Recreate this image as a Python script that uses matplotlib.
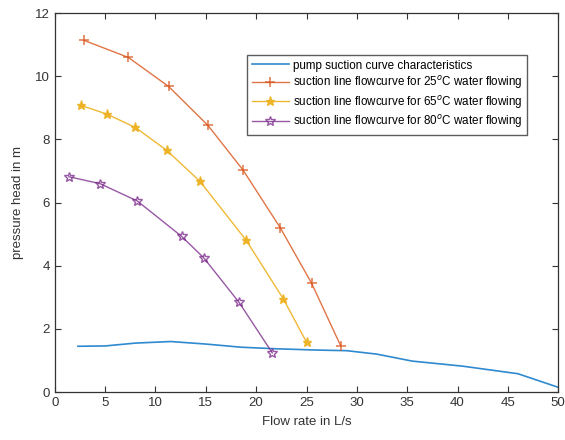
import numpy as np
import matplotlib.pyplot as plt

plt.rcParams['font.family'] = ['Liberation Sans', 'DejaVu Sans']

# pump suction curve
pump_x = [2.3, 5, 8, 11.5, 15, 18.5, 22, 26, 29, 32, 35.5, 40.5, 46, 50]
pump_y = [1.45, 1.46, 1.55, 1.6, 1.52, 1.42, 1.37, 1.33, 1.31, 1.2, 0.98, 0.82, 0.58, 0.15]

# suction line flow curves
x25 = [2.9, 7.3, 11.3, 15.2, 18.7, 22.4, 25.5, 28.4]
y25 = [11.14, 10.6, 9.68, 8.45, 7.03, 5.2, 3.45, 1.46]

x65 = [2.6, 5.2, 8.0, 11.1, 14.4, 19.0, 22.7, 25.0]
y65 = [9.08, 8.8, 8.38, 7.66, 6.68, 4.81, 2.95, 1.58]

x80 = [1.4, 4.5, 8.2, 12.6, 14.8, 18.3, 21.6]
y80 = [6.82, 6.6, 6.05, 4.93, 4.25, 2.84, 1.24]

fig = plt.figure(figsize=(5.65, 4.4), dpi=100)
ax = fig.add_axes([0.097, 0.109, 0.891, 0.861])

ax.plot(pump_x, pump_y, color='#2F8AD0', lw=1.2, label='pump suction curve characteristics')
ax.plot(x25, y25, color='#D95319', lw=1.0, marker='+', ms=7, mew=1.1,
        label='suction line flowcurve for 25$^{o}$C water flowing', alpha=0.8)
ax.plot(x65, y65, color='#EDB120', lw=1.0, marker='*', ms=6.5,
        label='suction line flowcurve for 65$^{o}$C water flowing', alpha=0.9)
ax.plot(x80, y80, color='#7E2F8E', lw=1.0, marker='*', ms=7.5, mfc='none', mew=1.0,
        label='suction line flowcurve for 80$^{o}$C water flowing', alpha=0.8)

ax.set_xlim(0, 50)
ax.set_ylim(0, 12)
ax.set_xticks(range(0, 51, 5))
ax.set_yticks(range(0, 13, 2))
ax.tick_params(direction='in', top=True, right=True, labelsize=9.5, colors='#333333', length=4)
for s in ax.spines.values():
    s.set_color('#333333')
    s.set_linewidth(0.9)

ax.set_xlabel('Flow rate in L/s', fontsize=9.5, color='#333333', labelpad=5)
ax.set_ylabel('pressure head in m', fontsize=9.5, color='#333333', labelpad=8)

leg = ax.legend(loc='upper left', bbox_to_anchor=(0.382, 0.89), fontsize=8.4,
                frameon=True, fancybox=False, handlelength=3.2, borderpad=0.4,
                labelspacing=0.22, handletextpad=0.3, borderaxespad=0)
leg.get_frame().set_edgecolor('#333333')
leg.get_frame().set_linewidth(1.0)

fig.savefig('out.png', dpi=100)
